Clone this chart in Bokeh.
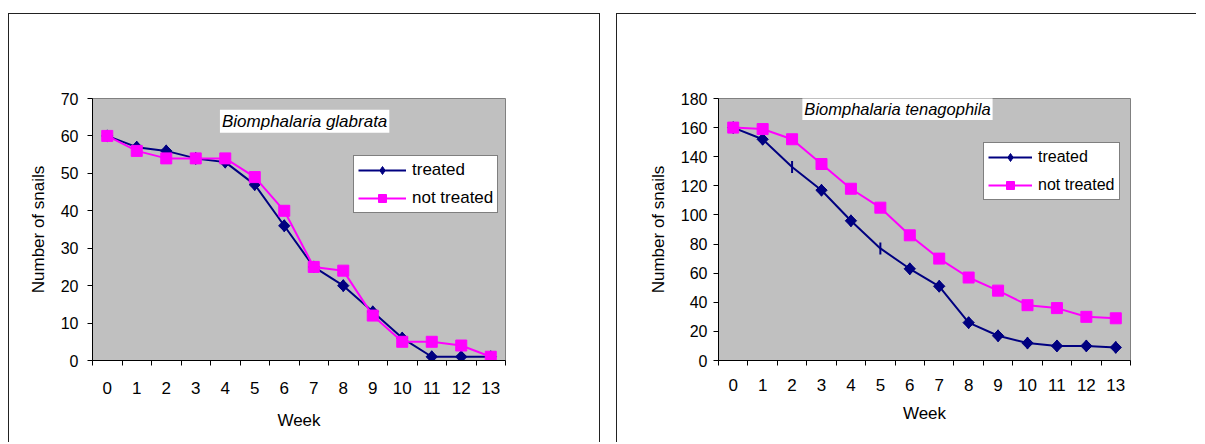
import numpy as np
from bokeh.plotting import figure
from bokeh.models import FixedTicker, Label, Legend, LegendItem, Spacer
from bokeh.layouts import row, column
from bokeh.embed import file_html
from bokeh.resources import INLINE

# ---------------- data ----------------
weeks = list(range(14))

glabrata_treated = [60, 57, 56, 54, 53, 47, 36, 25, 20, 13, 6, 1, 1, 1]
glabrata_not_treated = [60, 56, 54, 54, 54, 49, 40, 25, 24, 12, 5, 5, 4, 1]

tenagophila_treated = [160, 152, 133, 117, 96, 77, 63, 51, 26, 17, 12, 10, 10, 9]
tenagophila_not_treated = [160, 159, 152, 135, 118, 105, 86, 70, 57, 48, 38, 36, 30, 29]
# weeks where the treated marker of the second chart is drawn as a bar
tenagophila_treated_bar_weeks = [2, 5]

glabrata_yticks = list(range(0, 71, 10))
tenagophila_yticks = list(range(0, 181, 20))

series_names = ["treated", "not treated"]
titles = ["Biomphalaria glabrata", "Biomphalaria tenagophila"]
x_axis_title = "Week"
y_axis_title = "Number of snails"

FONT = "Liberation Sans"
NAVY = "#000080"
MAGENTA = "#FF00FF"


def make_panel(treated, not_treated, yticks, title, cfg, bar_weeks=()):
    p = figure(
        width=cfg["width"], height=cfg["height"],
        x_range=(weeks[0] - 0.5, weeks[-1] + 0.5),
        y_range=(yticks[0], yticks[-1]),
        output_backend="svg", toolbar_location=None,
        min_border_left=cfg["bl"], min_border_right=cfg["br"],
        min_border_top=cfg["bt"], min_border_bottom=cfg["bb"],
        background_fill_color="#C0C0C0", border_fill_color="white",
        styles=cfg["styles"],
    )
    p.grid.visible = False
    p.outline_line_color = "#808080"
    p.outline_line_width = 1

    # x axis: labels at week centres, ticks between categories
    xa = p.xaxis[0]
    xa.ticker = FixedTicker(ticks=weeks,
                            minor_ticks=[w - 0.5 for w in weeks] + [weeks[-1] + 0.5])
    xa.major_tick_line_color = None
    xa.major_tick_out = 0
    xa.major_tick_in = 0
    xa.minor_tick_out = 5
    xa.minor_tick_in = 0
    xa.minor_tick_line_color = "black"
    xa.axis_line_color = "black"
    xa.major_label_text_font = FONT
    xa.major_label_text_font_size = "17px"
    xa.major_label_text_color = "black"
    xa.major_label_standoff = cfg["xstand"]
    xa.axis_label = x_axis_title
    xa.axis_label_text_font = FONT
    xa.axis_label_text_font_size = "17px"
    xa.axis_label_text_font_style = "normal"
    xa.axis_label_text_color = "black"
    xa.axis_label_standoff = cfg["xlabstand"]

    # y axis
    ya = p.yaxis[0]
    ya.ticker = FixedTicker(ticks=yticks, minor_ticks=[])
    ya.major_tick_out = 5
    ya.major_tick_in = 0
    ya.major_tick_line_color = "black"
    ya.minor_tick_line_color = None
    ya.axis_line_color = "black"
    ya.major_label_text_font = FONT
    ya.major_label_text_font_size = "16px"
    ya.major_label_text_color = "black"
    ya.major_label_standoff = cfg["ystand"]
    ya.axis_label = y_axis_title
    ya.axis_label_text_font = FONT
    ya.axis_label_text_font_size = "17px"
    ya.axis_label_text_font_style = "normal"
    ya.axis_label_text_color = "black"
    ya.axis_label_standoff = 10

    # treated series
    lt = p.line(weeks, treated, line_color=NAVY, line_width=2)
    dw = [w for w in weeks if w not in bar_weeks]
    dv = [treated[w] for w in dw]
    # plain diamond (used by the legend), hidden under the rotated squares
    sd = p.scatter(dw, dv, marker="diamond", size=12,
                   fill_color=NAVY, line_color=NAVY)
    p.scatter(dw, dv, marker="square", angle=np.pi / 4, size=8,
              fill_color=NAVY, line_color=NAVY)
    if bar_weeks:
        p.scatter(list(bar_weeks), [treated[w] for w in bar_weeks], marker="dash",
                  angle=np.pi / 2, size=12, line_color=NAVY, line_width=2)

    # not treated series
    ln = p.line(weeks, not_treated, line_color=MAGENTA, line_width=2)
    sn = p.scatter(weeks, not_treated, marker="square", size=11,
                   fill_color=MAGENTA, line_color=MAGENTA)

    legend = Legend(
        items=[LegendItem(label=series_names[0], renderers=[lt, sd]),
               LegendItem(label=series_names[1], renderers=[ln, sn])],
        location=cfg["legloc"],
        label_text_font=FONT, label_text_font_size=cfg["legfont"],
        label_text_color="black",
        glyph_width=cfg["glyphw"], glyph_height=20, label_height=20,
        spacing=8, padding=4, margin=0, label_standoff=6,
        border_line_color="black", border_line_width=1,
        background_fill_color="white", background_fill_alpha=1.0,
    )
    p.add_layout(legend)

    p.add_layout(Label(
        x=cfg["tx"], y=cfg["ty"], x_units="data", y_units="data",
        text=title, text_font=FONT, text_font_style="italic",
        text_font_size=cfg["titlefont"], text_color="black",
        text_align="left", text_baseline="top",
        background_fill_color="white", padding=2,
    ))
    return p


left_cfg = dict(width=592, height=429, bl=83, br=96, bt=84, bb=80,
                xstand=16, xlabstand=14, ystand=9,
                legloc=(261, 147), legfont="17px", glyphw=48,
                tx=3.82, ty=67.0, titlefont="17px",
                styles={"border-top": "1px solid #222",
                        "border-left": "1px solid #222",
                        "border-right": "1px solid #222"})
right_cfg = dict(width=580, height=429, bl=101, br=67, bt=84, bb=83,
                 xstand=13, xlabstand=10, ystand=6,
                 legloc=(265, 160), legfont="16px", glyphw=44,
                 tx=2.35, ty=180.3, titlefont="16.5px",
                 styles={"border-top": "1px solid #222",
                         "border-left": "1px solid #222"})

p1 = make_panel(glabrata_treated, glabrata_not_treated, glabrata_yticks, titles[0], left_cfg)
p2 = make_panel(tenagophila_treated, tenagophila_not_treated, tenagophila_yticks, titles[1],
                right_cfg, bar_weeks=tenagophila_treated_bar_weeks)

layout = column(
    Spacer(height=13, width=10),
    row(Spacer(width=8, height=10), p1, Spacer(width=16, height=10), p2, spacing=0),
    spacing=0,
)

open("out.html", "w").write(file_html(layout, INLINE))
